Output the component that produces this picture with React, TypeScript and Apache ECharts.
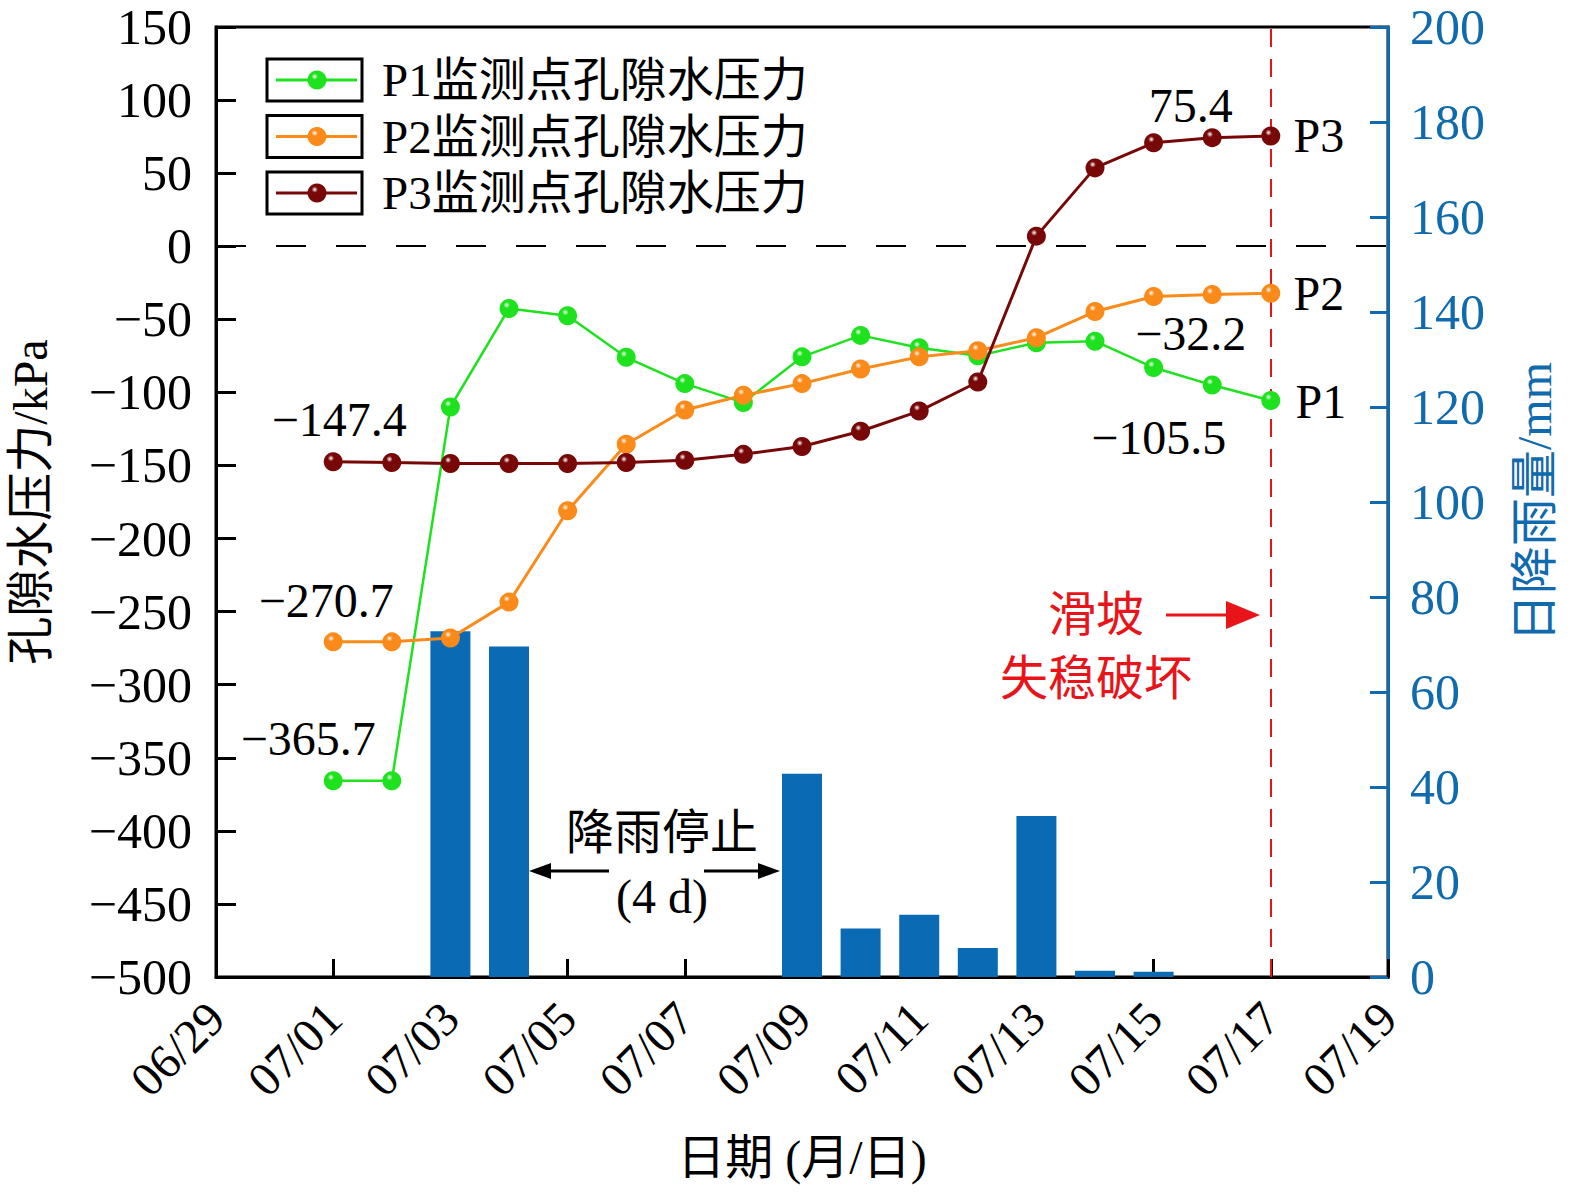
import { useEffect, useRef } from "react";
import * as echarts from "echarts";

// category axis: every day from 06/29 to 07/19
const axisDays = [
  "06/29", "06/30", "07/01", "07/02", "07/03", "07/04", "07/05", "07/06", "07/07", "07/08", "07/09",
  "07/10", "07/11", "07/12", "07/13", "07/14", "07/15", "07/16", "07/17", "07/18", "07/19",
];
// observation days
const obsDays = [
  "07/01", "07/02", "07/03", "07/04", "07/05", "07/06", "07/07", "07/08", "07/09",
  "07/10", "07/11", "07/12", "07/13", "07/14", "07/15", "07/16", "07/17",
];
const p1 = [-365.7, -365.7, -110, -42.6, -47.5, -76, -94, -107, -75.7, -61, -69.5, -75, -66, -65, -83, -95, -105.5];
const p2 = [-270.7, -270.7, -268, -243.5, -181, -135.5, -112, -102, -94, -84, -75.7, -71.5, -62.6, -44.7, -34.4, -33, -32.2];
const p3 = [-147.4, -148, -148.6, -148.6, -148.6, -148, -146.5, -142.4, -137, -126.6, -112.8, -92.9, 6.9, 53.6, 70.8, 74.3, 75.4];
const rain = [0, 0, 72.8, 69.6, 0, 0, 0, 0, 42.8, 10.2, 13.1, 6.1, 33.9, 1.3, 1.1, 0, 0];

const seriesNames = ["P1监测点孔隙水压力", "P2监测点孔隙水压力", "P3监测点孔隙水压力"];
const seriesColors = ["#1fe21f", "#fa8a1a", "#780808"];

const SERIF = '"Liberation Serif", "Times New Roman", "Noto Sans CJK SC", serif';
const BLUE = "#0f6aae";
const RED = "#e8141a";
const FS = 48;

const minus = (v: number) => (v < 0 ? "\u2212" + Math.abs(v) : String(v));

const ballColor = (c: string) =>
  new echarts.graphic.RadialGradient(0.38, 0.32, 0.75, [
    { offset: 0, color: "#ffffff" },
    { offset: 0.22, color: c },
    { offset: 1, color: c },
  ]);

const note = (coord: [string, number], text: string, dx: number, dy: number) => ({
  coord,
  symbol: "circle",
  symbolSize: 1,
  itemStyle: { color: "rgba(0,0,0,0)" },
  label: {
    show: true,
    formatter: text,
    position: "inside",
    offset: [dx, dy],
    color: "#000",
    fontSize: FS,
    fontFamily: SERIF,
  },
});

const App = () => {
  const ref = useRef<HTMLDivElement>(null);

  useEffect(() => {
    document.body.style.margin = "0";
    if (!ref.current) return;
    const chart = echarts.init(ref.current, null, { renderer: "svg" });

    const lineSeries = [p1, p2, p3].map((vals, k) => ({
      name: seriesNames[k],
      type: "line",
      yAxisIndex: 0,
      data: obsDays.map((d, i) => [d, vals[i]]),
      symbol: "circle",
      symbolSize: 19,
      lineStyle: { color: seriesColors[k], width: k === 0 ? 2.5 : 3 },
      itemStyle: { color: ballColor(seriesColors[k]) },
      z: 5 + k,
    }));

    const last = obsDays[obsDays.length - 1];
    (lineSeries[0] as any).markPoint = {
      silent: true,
      data: [
        note([obsDays[0], p1[0]], "\u2212365.7", -25, -42),
        note([last, p1[p1.length - 1]], "\u2212105.5", -112, 37),
        note([last, p1[p1.length - 1]], "P1", 50, 1),
      ],
    };
    (lineSeries[1] as any).markPoint = {
      silent: true,
      data: [
        note([obsDays[0], p2[0]], "\u2212270.7", -7, -41),
        note([last, p2[p2.length - 1]], "\u221232.2", -80, 40),
        note([last, p2[p2.length - 1]], "P2", 48, 0),
      ],
    };
    (lineSeries[2] as any).markPoint = {
      silent: true,
      data: [
        note([obsDays[0], p3[0]], "\u2212147.4", 6, -42),
        note([last, p3[p3.length - 1]], "75.4", -80, -31),
        note([last, p3[p3.length - 1]], "P3", 48, -1),
      ],
    };
    (lineSeries[0] as any).markLine = {
      silent: true,
      symbol: "none",
      label: { show: false },
      data: [
        { yAxis: 0, lineStyle: { color: "#000", width: 2, type: [30, 30] } },
        { xAxis: last, lineStyle: { color: RED, width: 2, type: [18, 12] } },
      ],
    };

    const legendItems: any[] = [];
    seriesNames.forEach((name, k) => {
      const cy = 80 + k * 56.5;
      legendItems.push(
        { type: "rect", shape: { x: 267, y: cy - 21, width: 95, height: 42 }, style: { fill: "none", stroke: "#000", lineWidth: 3 } },
        { type: "line", shape: { x1: 276, y1: cy, x2: 357, y2: cy }, style: { stroke: seriesColors[k], lineWidth: 3 } },
        { type: "circle", shape: { cx: 317, cy, r: 9.5 }, style: { fill: ballColor(seriesColors[k]) } },
        { type: "text", x: 382, y: cy, style: { text: name, font: `47px ${SERIF}`, fill: "#000", verticalAlign: "middle" } }
      );
    });

    const arrowHead = (tipX: number, y: number, dir: number, len: number, half: number, color: string) => ({
      type: "polygon",
      shape: { points: [[tipX, y], [tipX - dir * len, y - half], [tipX - dir * len, y + half]] },
      style: { fill: color },
    });

    const notes: any[] = [
      { type: "text", x: 662, y: 832, style: { text: "降雨停止", font: `${FS}px ${SERIF}`, fill: "#000", align: "center", verticalAlign: "middle" } },
      { type: "text", x: 662, y: 896, style: { text: "(4 d)", font: `${FS}px ${SERIF}`, fill: "#000", align: "center", verticalAlign: "middle" } },
      { type: "line", shape: { x1: 545, y1: 871, x2: 609, y2: 871 }, style: { stroke: "#000", lineWidth: 3 } },
      arrowHead(529, 871, -1, 22, 8, "#000"),
      { type: "line", shape: { x1: 704, y1: 871, x2: 762, y2: 871 }, style: { stroke: "#000", lineWidth: 3 } },
      arrowHead(780, 871, 1, 22, 8, "#000"),
      { type: "text", x: 1096, y: 614, style: { text: "滑坡", font: `${FS}px ${SERIF}`, fill: RED, align: "center", verticalAlign: "middle" } },
      { type: "text", x: 1096, y: 678, style: { text: "失稳破坏", font: `${FS}px ${SERIF}`, fill: RED, align: "center", verticalAlign: "middle" } },
      { type: "line", shape: { x1: 1166, y1: 615, x2: 1230, y2: 615 }, style: { stroke: RED, lineWidth: 3 } },
      arrowHead(1260, 615, 1, 34, 14, RED),
    ];

    chart.setOption({
      animation: false,
      backgroundColor: "#fff",
      grid: {
        left: 216,
        right: 187,
        top: 27,
        bottom: 215,
        show: true,
        borderColor: "#000",
        borderWidth: 3,
        outerBoundsMode: "none",
      },
      xAxis: {
        type: "category",
        data: axisDays,
        boundaryGap: false,
        axisLine: { onZero: false, lineStyle: { color: "#000", width: 3 } },
        axisTick: { inside: true, length: 18, interval: 1, lineStyle: { width: 3, color: "#000" } },
        axisLabel: { interval: 1, rotate: 45, margin: 33, color: "#000", fontSize: FS, fontFamily: SERIF },
        splitLine: { show: false },
        name: "日期 (月/日)",
        nameLocation: "middle",
        nameGap: 156,
        nameTextStyle: { color: "#000", fontSize: FS, fontFamily: SERIF },
      },
      yAxis: [
        {
          type: "value",
          min: -500,
          max: 150,
          interval: 50,
          axisLine: { show: true, lineStyle: { color: "#000", width: 3 } },
          axisTick: { show: true, inside: true, length: 20, lineStyle: { width: 3, color: "#000" } },
          axisLabel: { formatter: minus, margin: 24, color: "#000", fontSize: 50, fontFamily: SERIF },
          splitLine: { show: false },
          name: "孔隙水压力/kPa",
          nameLocation: "middle",
          nameRotate: 90,
          nameGap: 162,
          nameTextStyle: { color: "#000", fontSize: FS, fontFamily: SERIF },
        },
        {
          type: "value",
          position: "right",
          min: 0,
          max: 200,
          interval: 20,
          axisLine: { show: true, lineStyle: { color: BLUE, width: 3 } },
          axisTick: { show: true, inside: true, length: 18, lineStyle: { width: 3, color: BLUE } },
          axisLabel: { margin: 22, color: BLUE, fontSize: 50, fontFamily: SERIF },
          splitLine: { show: false },
          name: "日降雨量/mm",
          nameLocation: "middle",
          nameRotate: 90,
          nameGap: 122,
          nameTextStyle: { color: BLUE, fontSize: FS, fontFamily: SERIF },
        },
      ],
      series: [
        {
          name: "日降雨量",
          type: "bar",
          yAxisIndex: 1,
          data: obsDays.map((d, i) => [d, rain[i]]),
          barWidth: 40,
          itemStyle: { color: "#0a6bb4" },
          z: 2,
        },
        ...lineSeries,
      ],
      graphic: [...legendItems, ...notes],
    });

    return () => chart.dispose();
  }, []);

  return <div ref={ref} style={{ width: 1575, height: 1192 }} />;
};

export default App;
